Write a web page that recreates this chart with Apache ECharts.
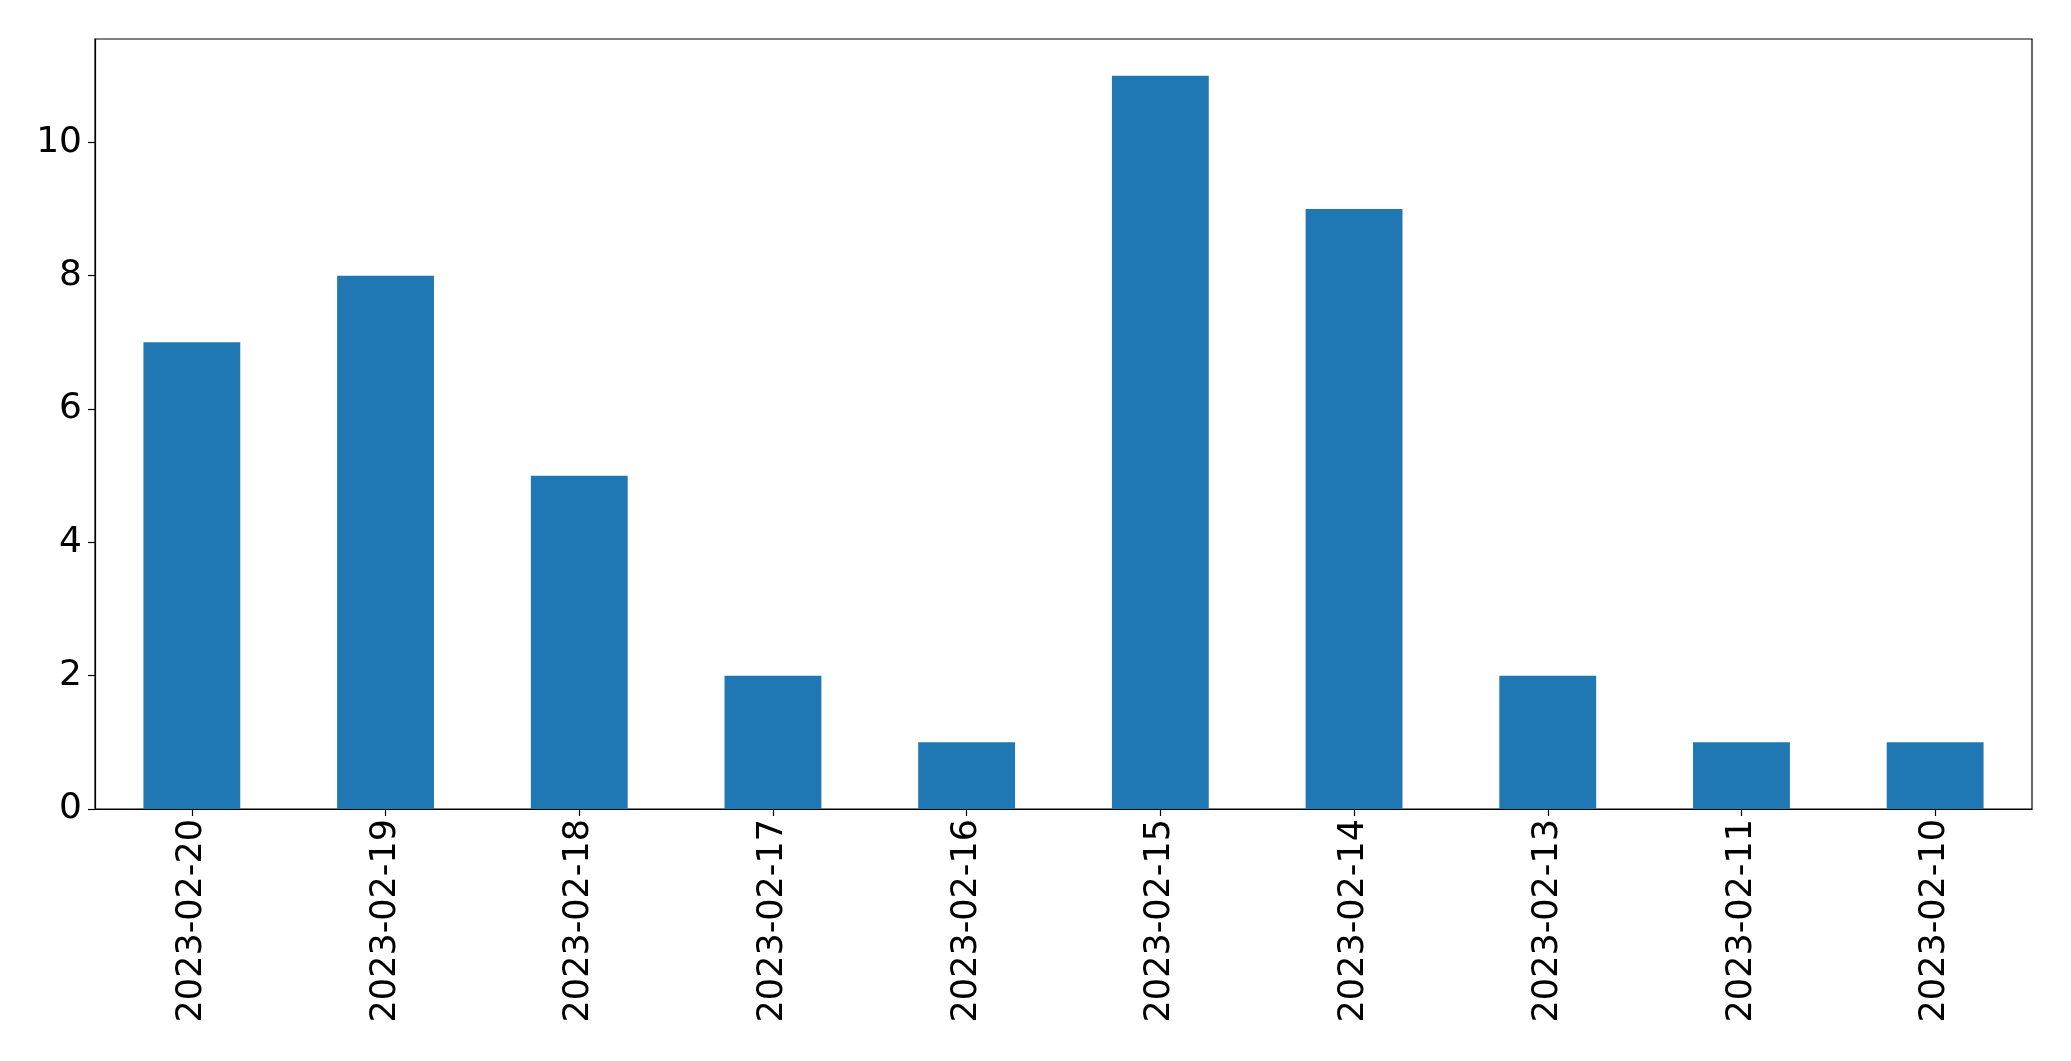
<!DOCTYPE html>
<html>
<head>
<meta charset="utf-8">
<script src="https://cdn.jsdelivr.net/npm/echarts@6/dist/echarts.min.js"></script>
<style>
html,body{margin:0;padding:0;background:#fff;}
#chart{width:2071px;height:1061px;}
</style>
</head>
<body>
<div id="chart"></div>
<script>
const categories = ["2023-02-20","2023-02-19","2023-02-18","2023-02-17","2023-02-16","2023-02-15","2023-02-14","2023-02-13","2023-02-11","2023-02-10"];
const values = [7, 8, 5, 2, 1, 11, 9, 2, 1, 1];
const yTicks = [0, 2, 4, 6, 8, 10];

const chart = echarts.init(document.getElementById('chart'), null, {renderer: 'canvas'});
const font = 'DejaVu Sans';
chart.setOption({
  animation: false,
  backgroundColor: '#ffffff',
  grid: {left: 95, right: 39, top: 39, bottom: 252, containLabel: false, show: true, borderColor: '#000', borderWidth: 1.2, backgroundColor: 'transparent'},
  xAxis: {
    type: 'category',
    data: categories,
    boundaryGap: true,
    axisLine: {show: true, lineStyle: {color: '#000', width: 1.2}},
    axisTick: {show: true, alignWithLabel: true, length: 7, lineStyle: {color: '#000', width: 1.2}},
    axisLabel: {rotate: 90, fontSize: 35, color: '#000', fontFamily: font, margin: 10, interval: 0}
  },
  yAxis: {
    type: 'value',
    min: 0,
    max: 11.55,
    interval: 2,
    splitLine: {show: false},
    axisLine: {show: true, lineStyle: {color: '#000', width: 1.2}},
    axisTick: {show: true, length: 7, lineStyle: {color: '#000', width: 1.2}},
    axisLabel: {
      fontSize: 36, color: '#000', fontFamily: font, margin: 13, showMaxLabel: false,
      formatter: function (v) { return yTicks.indexOf(v) >= 0 ? String(v) : ''; }
    }
  },
  series: [{
    type: 'bar',
    data: values,
    barWidth: '50%',
    itemStyle: {color: '#1f77b4'}
  }]
});
</script>
</body>
</html>
